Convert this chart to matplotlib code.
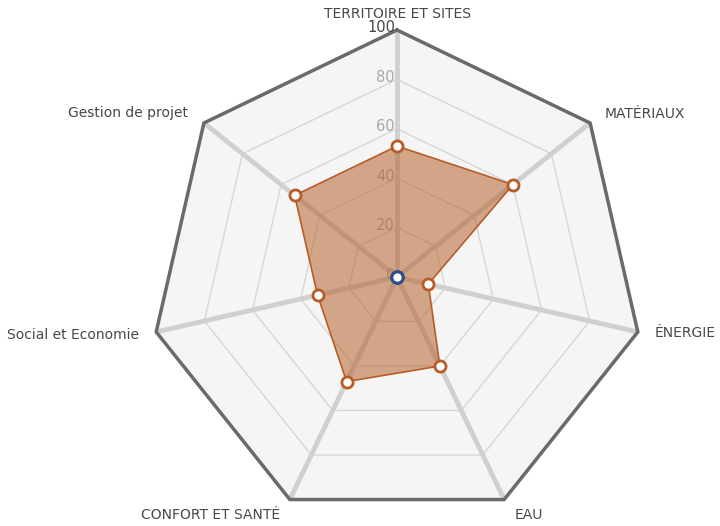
import numpy as np
import matplotlib
matplotlib.use("Agg")
import matplotlib.pyplot as plt

categories = ["TERRITOIRE ET SITES", "MATÉRIAUX", "ÉNERGIE", "EAU",
              "CONFORT ET SANTÉ", "Social et Economie", "Gestion de projet"]
scores = [53, 60, 13, 40, 47, 33, 53]
baseline = [0, 0, 0, 0, 0, 0, 0]
rings = [20, 40, 60, 80, 100]
ring_labels = ["20", "40", "60", "80", "100"]

# label offsets (pixels) from each outer vertex, with alignment
label_pos = [(0, 16, "center"), (15, 9, "left"), (17, -1, "left"), (10, -15, "left"),
             (-10, -15, "right"), (-17, -3, "right"), (-16, 10, "right")]

n = len(categories)
angles = np.arange(n) * 2 * np.pi / n
closed = np.append(angles, angles[0])

fig = plt.figure(figsize=(7.2, 5.26), dpi=100)
ax = fig.add_axes([150 / 720, 2 / 526, 494 / 720, 494 / 526], projection="polar")
ax.set_theta_zero_location("N")
ax.set_theta_direction(-1)
ax.set_ylim(0, 100)
ax.grid(False)
ax.set_xticks([])
ax.set_yticks([])
ax.spines["polar"].set_visible(False)
ax.patch.set_alpha(0)

# background of the heptagon
ax.fill(closed, [100] * (n + 1), color="#f5f5f5", zorder=0, clip_on=False)

# inner rings
for r in rings[:-1]:
    ax.plot(closed, [r] * (n + 1), color="#d6d6d6", lw=1.0, zorder=1)

# spokes
for a in angles:
    ax.plot([a, a], [0, 100], color="#d0d0d0", lw=3.5, zorder=1,
            solid_capstyle="butt", clip_on=False)

# outer ring
ax.plot(closed, [100] * (n + 1), color="#6a6a6a", lw=2.5, zorder=2,
        clip_on=False, solid_joinstyle="miter")

# radial tick labels on the top spoke
for r, lab in zip(rings, ring_labels):
    col = "#444444" if r == 100 else "#a8a8a8"
    ax.annotate(lab, xy=(0, r), xytext=(-2, 2), textcoords="offset pixels",
                ha="right", va="center", fontsize=10.5, color=col,
                annotation_clip=False, zorder=3)
ax.annotate("0", xy=(0, 0), xytext=(-2, 2), textcoords="offset pixels",
            ha="right", va="center", fontsize=10.5, color="#a8a8a8", zorder=3)

# data series
vals = scores + scores[:1]
ax.fill(closed, vals, color="#b8642f", alpha=0.55, zorder=4, lw=0)
ax.plot(closed, vals, color="#b85c27", lw=1.2, zorder=5)
ax.plot(angles, scores, "o", ms=8, mfc="white", mec="#b85c27", mew=2, zorder=6)
ax.plot(angles, baseline, "o", ms=8, mfc="white", mec="#2d4f8a", mew=2, zorder=7)

# category labels
for a, lab, (dx, dy, ha) in zip(angles, categories, label_pos):
    ax.annotate(lab, xy=(a, 100), xytext=(dx, dy), textcoords="offset pixels",
                ha=ha, va="center", fontsize=10, color="#484848",
                annotation_clip=False)

fig.savefig("out.png", dpi=100)
